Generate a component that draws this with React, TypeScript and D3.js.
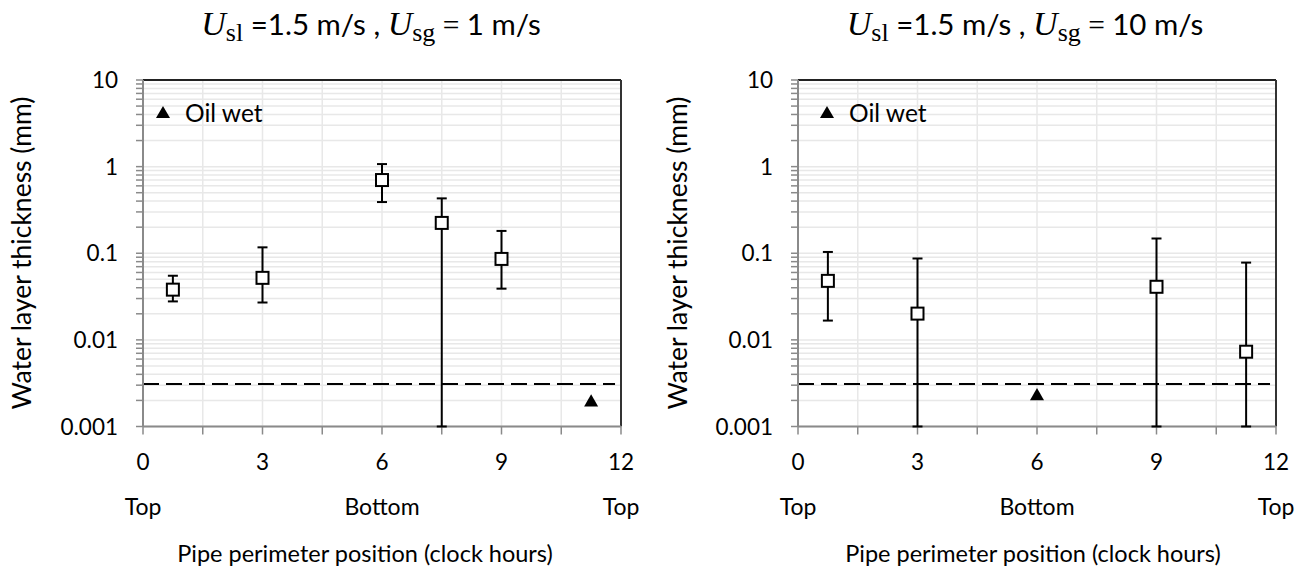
import React from 'react';
import * as d3 from 'd3';

// ---- data ----
const hourTicks = [0, 3, 6, 9, 12];
const hourMinorTicks = [0, 1.5, 3, 4.5, 6, 7.5, 9, 10.5, 12];
const positionLabels = ['Top', 'Bottom', 'Top'];
const positionHours = [0, 6, 12];
const yTicks = [0.001, 0.01, 0.1, 1, 10];
const yTickLabels = ['0.001', '0.01', '0.1', '1', '10'];
const thresholdValue = 0.0031;

const leftHours = [0.75, 3, 6, 7.5, 9];
const leftMean = [0.038, 0.052, 0.70, 0.224, 0.086];
const leftUpper = [0.055, 0.117, 1.07, 0.43, 0.181];
const leftLower = [0.0278, 0.027, 0.39, 0.001, 0.039];
const leftOilWetHours = [11.25];
const leftOilWetValues = [0.00195];

const rightHours = [0.75, 3, 9, 11.25];
const rightMean = [0.048, 0.0201, 0.041, 0.0073];
const rightUpper = [0.1035, 0.087, 0.148, 0.078];
const rightLower = [0.0167, 0.001, 0.001, 0.001];
const rightOilWetHours = [6];
const rightOilWetValues = [0.0023];

const leftUsg = '1';
const rightUsg = '10';

const SANS = 'Lato, "Open Sans", sans-serif';
const SERIF = '"Liberation Serif", "DejaVu Serif", serif';

interface PanelProps {
  x0: number;
  x1: number;
  titleCx: number;
  yLabelCx: number;
  xLabelCx: number;
  legendDx: number;
  usg: string;
  hours: number[];
  mean: number[];
  upper: number[];
  lower: number[];
  owHours: number[];
  owValues: number[];
}

const TOP = 80;
const BOTTOM = 426.5;

function Panel(p: PanelProps) {
  const x = d3.scaleLinear().domain([0, 12]).range([p.x0, p.x1]);
  const y = d3.scaleLog().domain([0.001, 10]).range([BOTTOM, TOP]);
  const minorY: number[] = [];
  for (let e = -3; e < 1; e++) {
    for (let k = 1; k <= 9; k++) minorY.push(k * Math.pow(10, e));
  }
  minorY.push(10);
  const tri = d3.symbol().type(d3.symbolTriangle).size(85)();
  const axisGrey = '#8a8a8a';
  return (
    <g>
      {/* gridlines */}
      {minorY.map((v, i) => (
        <line key={'gy' + i} x1={p.x0} x2={p.x1} y1={y(v)} y2={y(v)} stroke="#e8e8e8" strokeWidth={1.5} />
      ))}
      {hourMinorTicks.slice(1, -1).map((h, i) => (
        <line key={'gx' + i} x1={x(h)} x2={x(h)} y1={TOP} y2={BOTTOM} stroke="#e8e8e8" strokeWidth={1.5} />
      ))}
      {/* frame top/right */}
      <line x1={p.x0} x2={p.x1} y1={TOP} y2={TOP} stroke="#222" strokeWidth={2} />
      <line x1={p.x1} x2={p.x1} y1={TOP} y2={BOTTOM} stroke="#333" strokeWidth={2} />
      {/* threshold */}
      <line x1={x(0)} x2={x(11.85)} y1={y(thresholdValue)} y2={y(thresholdValue)} stroke="#000" strokeWidth={2} strokeDasharray="16,7" />
      {/* axes */}
      <line x1={p.x0} x2={p.x0} y1={TOP} y2={BOTTOM} stroke={axisGrey} strokeWidth={2} />
      <line x1={p.x0} x2={p.x1} y1={BOTTOM} y2={BOTTOM} stroke={axisGrey} strokeWidth={2} />
      {minorY.map((v, i) => (
        <line key={'ty' + i} x1={p.x0 - 7} x2={p.x0} y1={y(v)} y2={y(v)} stroke={axisGrey} strokeWidth={1.5} />
      ))}
      {hourMinorTicks.map((h, i) => (
        <line key={'tx' + i} x1={x(h)} x2={x(h)} y1={BOTTOM} y2={BOTTOM + 8} stroke={axisGrey} strokeWidth={1.5} />
      ))}
      {/* error bars */}
      {p.hours.map((h, i) => (
        <g key={'e' + i} stroke="#000" strokeWidth={2}>
          <line x1={x(h)} x2={x(h)} y1={y(p.upper[i])} y2={y(p.lower[i])} />
          <line x1={x(h) - 5} x2={x(h) + 5} y1={y(p.upper[i])} y2={y(p.upper[i])} />
          <line x1={x(h) - 5} x2={x(h) + 5} y1={y(p.lower[i])} y2={y(p.lower[i])} />
        </g>
      ))}
      {p.hours.map((h, i) => (
        <rect key={'s' + i} x={x(h) - 6} y={y(p.mean[i]) - 6} width={12} height={12} fill="#fff" stroke="#000" strokeWidth={2} />
      ))}
      {p.owHours.map((h, i) => (
        <path key={'t' + i} d={tri || ''} transform={`translate(${x(h)},${y(p.owValues[i]) + 1})`} fill="#000" />
      ))}
      {/* legend */}
      <path d={tri || ''} transform={`translate(${p.x0 + p.legendDx},${114})`} fill="#000" />
      <text x={p.x0 + p.legendDx + 22} y={122} fontFamily={SANS} fontSize={24.5} fill="#000">Oil wet</text>
      {/* y tick labels */}
      {yTicks.map((v, i) => (
        <text key={'yl' + i} x={p.x0 - 25} y={y(v) + 8} textAnchor="end" fontFamily={SANS} fontSize={22.5} fill="#000">{yTickLabels[i]}</text>
      ))}
      {/* x tick labels */}
      {hourTicks.map((h, i) => (
        <text key={'xl' + i} x={x(h)} y={470} textAnchor="middle" fontFamily={SANS} fontSize={22.5} fill="#000">{String(h)}</text>
      ))}
      {positionHours.map((h, i) => (
        <text key={'pl' + i} x={x(h)} y={515} textAnchor="middle" fontFamily={SANS} fontSize={23} fill="#000">{positionLabels[i]}</text>
      ))}
      <text x={p.xLabelCx} y={562} textAnchor="middle" fontFamily={SANS} fontSize={23.5} fill="#000">Pipe perimeter position (clock hours)</text>
      <text transform={`translate(${p.yLabelCx + 9},253) rotate(-90)`} textAnchor="middle" fontFamily={SANS} fontSize={26.5} fill="#000">Water layer thickness (mm)</text>
      {/* title */}
      <text x={p.titleCx} y={35} textAnchor="middle" fontSize={29.5} fill="#000" fontFamily={SANS}>
        <tspan fontFamily={SERIF} fontStyle="italic" fontSize={34}>U</tspan>
        <tspan fontFamily={SERIF} fontSize={26} dy={6}>sl</tspan>
        <tspan dy={-6}> =1.5 m/s , </tspan>
        <tspan fontFamily={SERIF} fontStyle="italic" fontSize={34}>U</tspan>
        <tspan fontFamily={SERIF} fontSize={26} dy={6}>sg</tspan>
        <tspan dy={-6} fontFamily={SERIF}> = </tspan>
        <tspan>{p.usg} m/s</tspan>
      </text>
    </g>
  );
}

export default function App() {
  return (
    <svg width={1311} height={571} style={{ position: 'absolute', left: 0, top: 0, background: '#fff' }}>
      <rect width={1311} height={571} fill="#fff" />
      <Panel x0={143} x1={621} titleCx={371} yLabelCx={22} xLabelCx={365} legendDx={20} usg={leftUsg}
        hours={leftHours} mean={leftMean} upper={leftUpper} lower={leftLower}
        owHours={leftOilWetHours} owValues={leftOilWetValues} />
      <Panel x0={798} x1={1276} titleCx={1025} yLabelCx={678} xLabelCx={1033} legendDx={29} usg={rightUsg}
        hours={rightHours} mean={rightMean} upper={rightUpper} lower={rightLower}
        owHours={rightOilWetHours} owValues={rightOilWetValues} />
    </svg>
  );
}
